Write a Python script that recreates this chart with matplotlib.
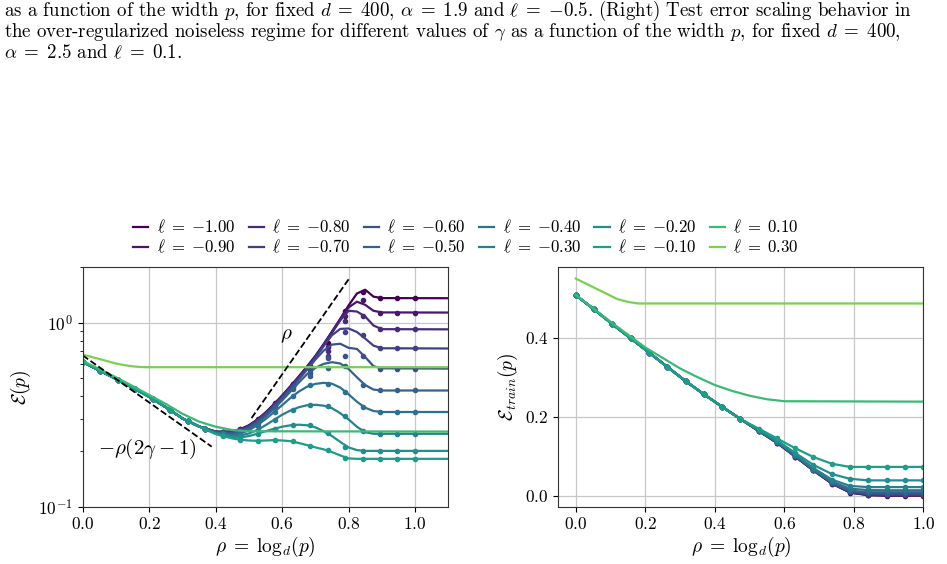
import numpy as np
import matplotlib
matplotlib.use("Agg")
import matplotlib.pyplot as plt

plt.rcParams['font.family'] = 'cmr10'
plt.rcParams['mathtext.fontset'] = 'cm'
plt.rcParams['axes.formatter.use_mathtext'] = True

# ---------------- data ----------------
ells = [-1.0, -0.9, -0.8, -0.7, -0.6, -0.5, -0.4, -0.3, -0.2, -0.1, 0.1, 0.3]

# left panel: test error, theory lines
rho_line = [0, 0.05, 0.1, 0.15, 0.2, 0.25, 0.3, 0.35,
            0.4, 0.425, 0.45, 0.475, 0.5, 0.525, 0.55, 0.575, 0.6, 0.625, 0.65,
            0.675, 0.7, 0.725, 0.75, 0.775, 0.8, 0.825, 0.85, 0.875, 0.9, 1.1]
desc_line = [0.612, 0.55, 0.495, 0.443, 0.396, 0.347, 0.302, 0.273]
test_tail = {
    -1.0: [0.256, 0.255, 0.257, 0.264, 0.277, 0.297, 0.325, 0.36, 0.402, 0.452, 0.51, 0.578,
           0.66, 0.765, 0.895, 1.05, 1.24, 1.44, 1.51, 1.385, 1.36, 1.358],
    -0.9: [0.256, 0.255, 0.256, 0.263, 0.276, 0.296, 0.324, 0.358, 0.40, 0.45, 0.507, 0.575,
           0.655, 0.76, 0.89, 1.045, 1.21, 1.30, 1.25, 1.16, 1.137, 1.135],
    -0.8: [0.255, 0.254, 0.255, 0.262, 0.275, 0.294, 0.322, 0.356, 0.397, 0.447, 0.503, 0.57,
           0.65, 0.755, 0.88, 1.03, 1.16, 1.15, 1.08, 0.965, 0.922, 0.92],
    -0.7: [0.255, 0.253, 0.254, 0.26, 0.273, 0.292, 0.319, 0.353, 0.393, 0.442, 0.498, 0.565,
           0.645, 0.745, 0.855, 0.925, 0.93, 0.89, 0.82, 0.75, 0.726, 0.724],
    -0.6: [0.254, 0.252, 0.252, 0.258, 0.27, 0.289, 0.315, 0.348, 0.388, 0.435, 0.49, 0.555,
           0.63, 0.705, 0.76, 0.768, 0.73, 0.72, 0.65, 0.58, 0.565, 0.563],
    -0.5: [0.253, 0.25, 0.249, 0.254, 0.266, 0.284, 0.309, 0.34, 0.378, 0.422, 0.472, 0.525,
           0.568, 0.597, 0.61, 0.6, 0.56, 0.505, 0.458, 0.433, 0.428, 0.428],
    -0.4: [0.252, 0.248, 0.246, 0.25, 0.26, 0.277, 0.299, 0.326, 0.356, 0.39, 0.422, 0.449,
           0.465, 0.471, 0.466, 0.444, 0.408, 0.372, 0.345, 0.331, 0.327, 0.327],
    -0.3: [0.251, 0.246, 0.243, 0.244, 0.25, 0.261, 0.277, 0.296, 0.316, 0.333, 0.347, 0.356,
           0.358, 0.354, 0.343, 0.322, 0.298, 0.272, 0.254, 0.249, 0.249, 0.249],
    -0.2: [0.25, 0.244, 0.239, 0.238, 0.242, 0.249, 0.257, 0.265, 0.272, 0.277, 0.279, 0.277,
           0.27, 0.257, 0.242, 0.225, 0.21, 0.203, 0.201, 0.201, 0.201, 0.201],
    -0.1: [0.248, 0.241, 0.235, 0.231, 0.229, 0.228, 0.229, 0.23, 0.229, 0.227, 0.222, 0.216,
           0.21, 0.205, 0.198, 0.19, 0.183, 0.182, 0.182, 0.182, 0.182, 0.182],
}
rho_g1 = [0, 0.05, 0.1, 0.15, 0.2, 0.25, 0.3, 0.35, 0.4, 0.45, 0.5, 1.1]
test_g1 = [0.62, 0.56, 0.505, 0.453, 0.405, 0.362, 0.32, 0.29, 0.272, 0.261, 0.257, 0.256]
rho_g3 = [0, 0.05, 0.1, 0.125, 0.15, 0.175, 0.2, 1.1]
test_g3 = [0.671, 0.635, 0.60, 0.588, 0.579, 0.574, 0.573, 0.573]

# left panel: simulations (rho = k/19)
rho_sim = [0, 0.053, 0.105, 0.158, 0.211, 0.263, 0.316, 0.368, 0.421, 0.474,
           0.526, 0.579, 0.632, 0.684, 0.737, 0.789, 0.842, 0.895, 0.947, 1.0]
desc_sim = [0.612, 0.546, 0.490, 0.436, 0.385, 0.335, 0.292, 0.265]
test_sim_tail = {
    -1.0: [0.255, 0.264, 0.298, 0.365, 0.465, 0.58, 0.78, 1.157, 1.46, 1.36, 1.36, 1.36],
    -0.9: [0.255, 0.263, 0.297, 0.363, 0.462, 0.578, 0.74, 1.087, 1.33, 1.135, 1.135, 1.135],
    -0.8: [0.255, 0.262, 0.295, 0.36, 0.458, 0.573, 0.70, 1.02, 1.087, 0.92, 0.92, 0.92],
    -0.7: [0.254, 0.261, 0.293, 0.357, 0.453, 0.555, 0.66, 0.893, 0.853, 0.724, 0.724, 0.724],
    -0.6: [0.253, 0.259, 0.29, 0.352, 0.445, 0.534, 0.64, 0.663, 0.658, 0.563, 0.563, 0.563],
    -0.5: [0.252, 0.257, 0.285, 0.343, 0.435, 0.51, 0.568, 0.58, 0.461, 0.428, 0.428, 0.428],
    -0.4: [0.25, 0.252, 0.275, 0.328, 0.40, 0.458, 0.462, 0.42, 0.35, 0.327, 0.327, 0.327],
    -0.3: [0.248, 0.245, 0.26, 0.295, 0.336, 0.356, 0.351, 0.31, 0.257, 0.249, 0.249, 0.249],
    -0.2: [0.246, 0.238, 0.248, 0.266, 0.277, 0.277, 0.251, 0.212, 0.201, 0.201, 0.201, 0.201],
    -0.1: [0.243, 0.231, 0.228, 0.23, 0.227, 0.214, 0.203, 0.183, 0.182, 0.182, 0.182, 0.182],
}

# right panel: train error (theory line through the simulation grid)
train_head = [0.507, 0.471, 0.434, 0.398, 0.362, 0.326, 0.29, 0.257, 0.225, 0.194]
train_tail = {
    -1.0: [0.164, 0.134, 0.099, 0.064, 0.031, 0.008, 0.0015, 0.0005, 0.0005, 0.0005],
    -0.9: [0.164, 0.134, 0.099, 0.064, 0.031, 0.009, 0.002, 0.001, 0.001, 0.001],
    -0.8: [0.164, 0.134, 0.099, 0.064, 0.032, 0.009, 0.003, 0.002, 0.002, 0.002],
    -0.7: [0.164, 0.135, 0.1, 0.065, 0.032, 0.01, 0.004, 0.003, 0.003, 0.003],
    -0.6: [0.164, 0.135, 0.1, 0.065, 0.033, 0.011, 0.006, 0.005, 0.005, 0.005],
    -0.5: [0.165, 0.136, 0.101, 0.066, 0.034, 0.013, 0.009, 0.009, 0.009, 0.009],
    -0.4: [0.165, 0.137, 0.102, 0.067, 0.036, 0.018, 0.0145, 0.014, 0.014, 0.014],
    -0.3: [0.166, 0.138, 0.104, 0.07, 0.041, 0.025, 0.022, 0.022, 0.022, 0.022],
    -0.2: [0.167, 0.14, 0.108, 0.078, 0.055, 0.043, 0.039, 0.039, 0.039, 0.039],
    -0.1: [0.17, 0.145, 0.12, 0.098, 0.081, 0.073, 0.073, 0.073, 0.073, 0.073],
}
rho_tr_g1 = [0, 0.1, 0.2, 0.3, 0.35, 0.4, 0.45, 0.5, 0.55, 0.6, 1.0]
train_g1 = [0.508, 0.44, 0.375, 0.322, 0.30, 0.28, 0.265, 0.253, 0.244, 0.239, 0.238]
rho_tr_g3 = [0, 0.12, 0.15, 0.18, 1.0]
train_g3 = [0.549, 0.497, 0.49, 0.486, 0.486]

# guide lines (end points)
slope_up_x = [0.508, 0.80]
slope_up_y = [0.303, 1.72]
slope_dn_x = [0.0, 0.388]
slope_dn_y = [0.664, 0.212]

colors = {l: plt.cm.viridis((l + 1.0) / 1.3 * 0.8) for l in ells}

# ---------------- figure ----------------
fig = plt.figure(figsize=(9.47, 5.64), dpi=100)
ax1 = fig.add_axes([0.0873, 0.1016, 0.3861, 0.4245])
ax2 = fig.add_axes([0.5896, 0.1016, 0.3854, 0.4245])

handles = []
for l in ells:
    c = colors[l]
    if l < 0:
        h, = ax1.plot(rho_line, desc_line + test_tail[l], color=c, lw=1.6)
        ax1.plot(rho_sim, desc_sim + test_sim_tail[l], 'o', color=c, ms=3)
        ax2.plot(rho_sim, train_head + train_tail[l], '-o', color=c, lw=1.6, ms=3)
    elif l == 0.1:
        h, = ax1.plot(rho_g1, test_g1, color=c, lw=1.6)
        ax2.plot(rho_tr_g1, train_g1, color=c, lw=1.6)
    else:
        h, = ax1.plot(rho_g3, test_g3, color=c, lw=1.6)
        ax2.plot(rho_tr_g3, train_g3, color=c, lw=1.6)
    handles.append(h)

ax1.plot(slope_up_x, slope_up_y, 'k--', lw=1.3)
ax1.plot(slope_dn_x, slope_dn_y, 'k--', lw=1.3)
ax1.text(0.613, 0.845, r'$\rho$', fontsize=15, ha='center', va='center')
ax1.text(0.196, 0.207, r'$-\rho(2\gamma\:-\:1)$', fontsize=15, ha='center', va='center')

xlab = r'$\rho\;=\;\mathrm{log}_d(p)$'
ax1.set_yscale('log')
ax1.set_xlim(0, 1.1)
ax1.set_ylim(0.1, 2.0)
ax1.set_xticks([0, 0.2, 0.4, 0.6, 0.8, 1.0])
ax1.set_xlabel(xlab, fontsize=14, labelpad=2)
ax1.set_ylabel(r'$\mathcal{E}(p)$', fontsize=14)

ax2.set_xlim(-0.05, 1.0)
ax2.set_ylim(-0.0275, 0.5775)
ax2.set_xticks([0, 0.2, 0.4, 0.6, 0.8, 1.0])
ax2.set_yticks([0, 0.2, 0.4])
ax2.set_xlabel(xlab, fontsize=14, labelpad=2)
ax2.set_ylabel(r'$\mathcal{E}_{train}(p)$', fontsize=14)

for ax in (ax1, ax2):
    ax.grid(True, color='#c8c8c8', lw=0.9)
    ax.set_axisbelow(True)
    ax.tick_params(labelsize=12.5)
    for s in ax.spines.values():
        s.set_color('#333333')

labels = [(r'$\ell\;=\;%.2f$' % l).replace('-', '{-}') for l in ells]
fig.legend(handles, labels, loc='center', bbox_to_anchor=(0.492, 0.58), ncol=6,
           frameon=False, fontsize=12.1, handlelength=0.9, handletextpad=0.5,
           columnspacing=0.8, labelspacing=0.14)

# caption text from the page above the figure
cap = [r'as a function of the width $p$, for fixed $d\;=\;400$, $\alpha\;=\;1.9$ and $\ell\;=\;{-}0.5$. (Right) Test error scaling behavior in',
       r'the over-regularized noiseless regime for different values of $\gamma$ as a function of the width $p$, for fixed $d\;=\;400$,',
       r'$\alpha\;=\;2.5$ and $\ell\;=\;0.1$.']
for i, line in enumerate(cap):
    fig.text(4 / 947, 1 - (16 + 21.2 * i) / 564, line, fontsize=13.6, va='baseline', ha='left')

fig.savefig('out.png', dpi=100)
